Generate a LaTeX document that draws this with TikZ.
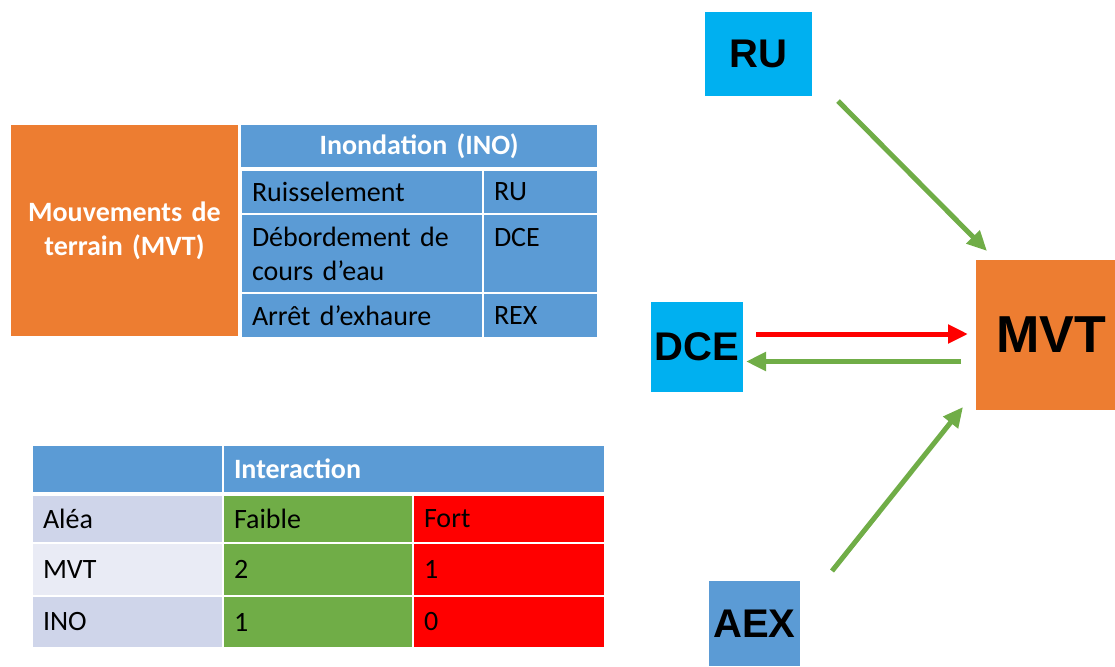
\documentclass[tikz,border=0pt]{standalone}
\usepackage{fontspec}
\setmainfont{Carlito}
\newfontfamily\boxfont{Liberation Sans}
\usetikzlibrary{arrows.meta}
\definecolor{oblue}{HTML}{5B9BD5}
\definecolor{oorange}{HTML}{ED7D31}
\definecolor{ogreen}{HTML}{70AD47}
\definecolor{ored}{HTML}{FF0000}
\definecolor{ocyan}{HTML}{00B0F0}
\definecolor{lav}{HTML}{CFD5EA}
\definecolor{lavlight}{HTML}{E9EBF5}
\tikzset{
  cell/.style={rectangle, anchor=north west, inner xsep=10pt, inner ysep=0pt, outer sep=0pt,
    align=left, font=\fontsize{28}{34}\selectfont, text=black},
  hcell/.style={cell, font=\fontsize{28}{34}\selectfont\bfseries, text=white},
  tag/.style={rectangle, anchor=north west, inner sep=0pt, outer sep=0pt, font=\boxfont\bfseries\fontsize{40}{44}\selectfont, text=black},
  link/.style={line width=5pt, -{Triangle[length=20pt,width=18pt]}},
}
\begin{document}
\begin{tikzpicture}[x=1pt,y=-1pt]
\useasboundingbox (0,0) rectangle (1115,666);
% left table
\node[hcell, fill=oorange, minimum width=227pt, minimum height=211pt, text width=207pt, align=center] (mvtbig) at (11,125) {Mouvements de\\terrain (MVT)};
\node[hcell, fill=oblue, minimum width=356pt, minimum height=42pt, text width=336pt, align=center] (ino) at (241,125) {Inondation (INO)};
\node[cell, fill=oblue, minimum width=240pt, minimum height=42pt, text width=220pt] (r1a) at (242,171) {Ruisselement};
\node[cell, fill=oblue, minimum width=113pt, minimum height=42pt, text width=93pt] (r1b) at (484,171) {RU};
\node[cell, fill=oblue, minimum width=240pt, minimum height=77pt, text width=220pt] (r2a) at (242,215) {Débordement de\\cours d’eau};
\node[cell, fill=oblue, minimum width=113pt, minimum height=77pt] (r2b) at (484,215) {};
\node[cell, anchor=west, text width=93pt] (r2bt) at (484,238) {DCE};
\node[cell, fill=oblue, minimum width=240pt, minimum height=43pt, text width=220pt] (r3a) at (242,294) {Arrêt d’exhaure};
\node[cell, fill=oblue, minimum width=113pt, minimum height=43pt, text width=93pt] (r3b) at (484,294) {REX};
% bottom table
\node[cell, fill=oblue, minimum width=189pt, minimum height=46pt] (h0) at (33,446) {};
\node[hcell, fill=oblue, minimum width=380pt, minimum height=46pt, text width=360pt] (h1) at (224,446) {Interaction};
\node[cell, fill=lav, minimum width=189pt, minimum height=46pt, text width=169pt] (a0) at (33,496) {Aléa};
\node[cell, fill=ogreen, minimum width=188pt, minimum height=46pt, text width=168pt] (a1) at (224,496) {Faible};
\node[cell, fill=ored, minimum width=190pt, minimum height=46pt, text width=170pt] (a2) at (414,496) {Fort};
\node[cell, fill=lavlight, minimum width=189pt, minimum height=51pt, text width=169pt] (m0) at (33,544) {MVT};
\node[cell, fill=ogreen, minimum width=188pt, minimum height=51pt, text width=168pt] (m1) at (224,544) {2};
\node[cell, fill=ored, minimum width=190pt, minimum height=51pt, text width=170pt] (m2) at (414,544) {1};
\node[cell, fill=lav, minimum width=189pt, minimum height=50pt, text width=169pt] (i0) at (33,597) {INO};
\node[cell, fill=ogreen, minimum width=188pt, minimum height=50pt, text width=168pt] (i1) at (224,597) {1};
\node[cell, fill=ored, minimum width=190pt, minimum height=50pt, text width=170pt] (i2) at (414,597) {0};
% diagram
\node[tag, fill=ocyan, minimum width=107pt, minimum height=84pt] (RU) at (705,12) {RU};
\node[tag, fill=ocyan, minimum width=92pt, minimum height=90pt] (DCE) at (651,302) {DCE};
\node[tag, fill=oblue, minimum width=91pt, minimum height=85pt] (AEX) at (709,581) {AEX};
\node[tag, fill=oorange, minimum width=139pt, minimum height=150pt, font=\boxfont\bfseries\fontsize{52}{56}\selectfont] (MVT) at (976,260) {\hspace*{12pt}MVT};
\draw[link, ogreen] ([shift={(26,5)}]RU.south east) -- ([shift={(11,-9)}]MVT.north west);
\draw[link, ored] ([shift={(13,-13)}]DCE.east) -- ([shift={(-8,-1)}]MVT.west);
\draw[link, ogreen] ([shift={(-15,26.5)}]MVT.west) -- ([shift={(3,14.5)}]DCE.east);
\draw[link, ogreen] ([shift={(32,-10)}]AEX.north east) -- ([shift={(-13,-3)}]MVT.south west);
\end{tikzpicture}
\end{document}
